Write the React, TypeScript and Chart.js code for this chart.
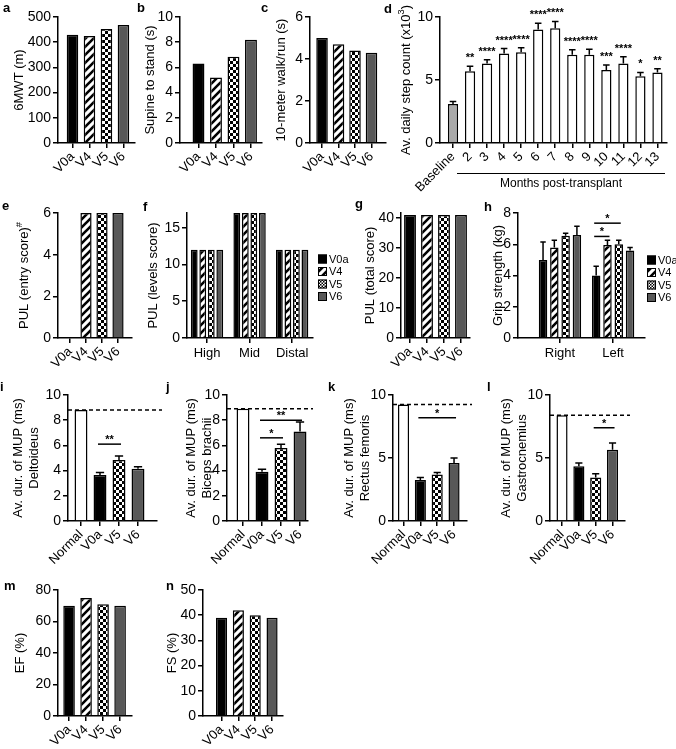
import React, { useEffect, useRef } from 'react';
import { Chart, registerables } from 'chart.js';
Chart.register(...registerables);

const FONT = "'Liberation Sans', Arial, Helvetica, sans-serif";

// ---------- DATA ----------
const visitLabels = ['V0a', 'V4', 'V5', 'V6'];
const mwt6 = [430, 425, 452, 468];
const supineToStand = [6.3, 5.2, 6.85, 8.2];
const walkRun10m = [5.0, 4.7, 4.4, 4.3];

const stepLabels = ['Baseline', '2', '3', '4', '5', '6', '7', '8', '9', '10', '11', '12', '13'];
const stepMeans = [3.1, 5.7, 6.3, 7.1, 7.2, 9.0, 9.1, 7.0, 7.0, 5.8, 6.3, 5.3, 5.6];
const stepErr = [0.2, 0.4, 0.3, 0.4, 0.35, 0.5, 0.55, 0.4, 0.45, 0.4, 0.55, 0.3, 0.3];
const stepStars = ['', '**', '****', '****', '****', '****', '****', '****', '****', '***', '****', '*', '**'];

const pulEntry = [0, 6, 6, 6];
const pulLevelCats = ['High', 'Mid', 'Distal'];
const pulLevelsV0a = [12, 17, 12];
const pulLevelsV4 = [12, 17, 12];
const pulLevelsV5 = [12, 17, 12];
const pulLevelsV6 = [12, 17, 12];
const pulTotal = [41, 41, 41, 41];

const gripCats = ['Right', 'Left'];
const gripV0a = [5.0, 4.0];
const gripV0aErr = [1.15, 0.6];
const gripV4 = [5.8, 5.95];
const gripV4Err = [0.45, 0.3];
const gripV5 = [6.55, 6.0];
const gripV5Err = [0.15, 0.25];
const gripV6 = [6.6, 5.6];
const gripV6Err = [0.55, 0.2];

const mupLabels = ['Normal', 'V0a', 'V5', 'V6'];
const mupDeltoideus = [8.8, 3.65, 4.85, 4.15];
const mupDeltoideusErr = [0, 0.2, 0.3, 0.15];
const mupBiceps = [8.9, 3.9, 5.8, 7.1];
const mupBicepsErr = [0, 0.2, 0.3, 0.75];
const mupRectus = [9.25, 3.25, 3.7, 4.6];
const mupRectusErr = [0, 0.2, 0.15, 0.4];
const mupGastro = [8.4, 4.35, 3.45, 5.65];
const mupGastroErr = [0, 0.25, 0.3, 0.55];

const efValues = [70, 75, 71, 70];
const fsValues = [39, 42, 40, 39];

// ---------- STYLE ----------
type Fill = 'black' | 'hatch' | 'check' | 'checkFine' | 'gray' | 'white' | 'lgray';
const visitFills: Fill[] = ['black', 'hatch', 'check', 'gray'];
const mupFills: Fill[] = ['white', 'black', 'check', 'gray'];

function makeHatch(ctx: CanvasRenderingContext2D, hs: number, lw: number) {
  const hc = document.createElement('canvas');
  hc.width = hs; hc.height = hs;
  const h = hc.getContext('2d')!;
  h.fillStyle = '#fff'; h.fillRect(0, 0, hs, hs);
  h.strokeStyle = '#000'; h.lineWidth = lw;
  h.beginPath();
  h.moveTo(-1, hs + 1); h.lineTo(hs + 1, -1);
  h.moveTo(-hs / 2 - 1, hs / 2 + 1); h.lineTo(hs / 2 + 1, -hs / 2 - 1);
  h.moveTo(hs / 2 - 1, hs * 1.5 + 1); h.lineTo(hs * 1.5 + 1, hs / 2 - 1);
  h.stroke();
  return ctx.createPattern(hc, 'repeat');
}
function makeCheck(ctx: CanvasRenderingContext2D, cs: number) {
  const cc = document.createElement('canvas');
  cc.width = cs * 2; cc.height = cs * 2;
  const c = cc.getContext('2d')!;
  c.fillStyle = '#fff'; c.fillRect(0, 0, cs * 2, cs * 2);
  c.fillStyle = '#000'; c.fillRect(0, 0, cs, cs); c.fillRect(cs, cs, cs, cs);
  return ctx.createPattern(cc, 'repeat');
}
function makePatterns(ctx: CanvasRenderingContext2D): Record<Fill, any> {
  return {
    black: '#000000',
    hatch: makeHatch(ctx, 8, 2.6),
    check: makeCheck(ctx, 3),
    checkFine: makeCheck(ctx, 1.5),
    gray: '#585858',
    white: '#ffffff',
    lgray: '#a9a9a9',
  };
}

interface Series { name: string; values: number[]; errors?: number[]; fills: Fill[]; }
interface Sig { a: [number, number]; b: [number, number]; y: number; text: string; }
interface Spec {
  key: string;
  plot: [number, number, number, number];
  yMax: number; yTicks: number[];
  xRange: [number, number];
  labels: string[];
  rotate: boolean;
  title: string[];
  titleX: number; titleSize: number;
  series: Series[];
  catPct: number; barPct: number;
  stars?: string[];
  sig?: Sig[];
  dashed?: number;
  legend?: [number, number];
}

const range = (a: number, b: number, s: number) => { const r: number[] = []; for (let v = a; v <= b + 1e-9; v += s) r.push(v); return r; };

const specs: Spec[] = [
  { key: 'a', plot: [58, 17, 135, 143], yMax: 500, yTicks: range(0, 500, 100), xRange: [0.147, 4.68], labels: visitLabels, rotate: true,
    title: ['6MWT (m)'], titleX: 19, titleSize: 13, series: [{ name: '', values: mwt6, fills: visitFills }], catPct: 0.68, barPct: 1 },
  { key: 'b', plot: [180, 17, 262, 143], yMax: 10, yTicks: range(0, 10, 2), xRange: [-0.057, 4.63], labels: visitLabels, rotate: true,
    title: ['Supine to stand (s)'], titleX: 150, titleSize: 13, series: [{ name: '', values: supineToStand, fills: visitFills }], catPct: 0.68, barPct: 1 },
  { key: 'c', plot: [310, 17, 386, 143], yMax: 6, yTicks: range(0, 6, 2), xRange: [0.27, 4.88], labels: visitLabels, rotate: true,
    title: ['10-meter walk/run (s)'], titleX: 281, titleSize: 13, series: [{ name: '', values: walkRun10m, fills: visitFills }], catPct: 0.7, barPct: 1 },
  { key: 'd', plot: [440, 17, 667, 143], yMax: 10, yTicks: [0, 5, 10], xRange: [0.237, 13.56], labels: stepLabels, rotate: true,
    title: ['Av. daily step count (x10^{3})'], titleX: 406, titleSize: 13,
    series: [{ name: '', values: stepMeans, errors: stepErr, fills: stepLabels.map((_, i) => (i === 0 ? 'lgray' : 'white') as Fill) }],
    catPct: 0.6, barPct: 1, stars: stepStars },
  { key: 'e', plot: [58, 213, 132, 338], yMax: 6, yTicks: range(0, 6, 2), xRange: [0.25, 4.875], labels: visitLabels, rotate: true,
    title: ['PUL (entry score)^{#}'], titleX: 24, titleSize: 13, series: [{ name: '', values: pulEntry, fills: visitFills }], catPct: 0.7, barPct: 1 },
  { key: 'f', plot: [187, 213, 313, 338], yMax: 17, yTicks: [0, 5, 10, 15], xRange: [0.53, 3.49], labels: pulLevelCats, rotate: false,
    title: ['PUL (levels score)'], titleX: 153, titleSize: 13,
    series: [
      { name: 'V0a', values: pulLevelsV0a, fills: ['black', 'black', 'black'] },
      { name: 'V4', values: pulLevelsV4, fills: ['hatch', 'hatch', 'hatch'] },
      { name: 'V5', values: pulLevelsV5, fills: ['check', 'check', 'check'] },
      { name: 'V6', values: pulLevelsV6, fills: ['gray', 'gray', 'gray'] },
    ], catPct: 0.8, barPct: 0.8, legend: [318, 259] },
  { key: 'g', plot: [401, 213, 470, 338], yMax: 41.7, yTicks: range(0, 40, 10), xRange: [0.47, 4.53], labels: visitLabels, rotate: true,
    title: ['PUL (total score)'], titleX: 370, titleSize: 13, series: [{ name: '', values: pulTotal, fills: visitFills }], catPct: 0.7, barPct: 1 },
  { key: 'h', plot: [518, 213, 645, 338], yMax: 8, yTicks: range(0, 8, 2), xRange: [0.21, 2.6], labels: gripCats, rotate: false,
    title: ['Grip strength (kg)'], titleX: 498, titleSize: 13,
    series: [
      { name: 'V0a', values: gripV0a, errors: gripV0aErr, fills: ['black', 'black'] },
      { name: 'V4', values: gripV4, errors: gripV4Err, fills: ['hatch', 'hatch'] },
      { name: 'V5', values: gripV5, errors: gripV5Err, fills: ['check', 'check'] },
      { name: 'V6', values: gripV6, errors: gripV6Err, fills: ['gray', 'gray'] },
    ], catPct: 0.85, barPct: 0.75, legend: [647, 260],
    sig: [{ a: [0, 1], b: [1, 1], y: 6.5, text: '*' }, { a: [0, 1], b: [2, 1], y: 7.35, text: '*' }] },
  { key: 'i', plot: [68, 395, 157, 521], yMax: 10, yTicks: range(0, 10, 2), xRange: [0.316, 5.0], labels: mupLabels, rotate: true,
    title: ['Av. dur. of MUP (ms)', 'Deltoideus'], titleX: 18, titleSize: 13,
    series: [{ name: '', values: mupDeltoideus, errors: mupDeltoideusErr, fills: mupFills }], catPct: 0.68, barPct: 1,
    dashed: mupDeltoideus[0], sig: [{ a: [0, 1], b: [0, 2], y: 6.1, text: '**' }] },
  { key: 'j', plot: [227, 395, 308, 521], yMax: 10, yTicks: range(0, 10, 2), xRange: [0.158, 4.42], labels: mupLabels, rotate: true,
    title: ['Av. dur. of MUP (ms)', 'Biceps brachii'], titleX: 191, titleSize: 13,
    series: [{ name: '', values: mupBiceps, errors: mupBicepsErr, fills: mupFills }], catPct: 0.68, barPct: 1,
    dashed: mupBiceps[0], sig: [{ a: [0, 1], b: [0, 2], y: 6.6, text: '*' }, { a: [0, 1], b: [0, 3], y: 8.0, text: '**' }] },
  { key: 'k', plot: [393, 395, 467, 521], yMax: 10, yTicks: [0, 5, 10], xRange: [0.375, 4.77], labels: mupLabels, rotate: true,
    title: ['Av. dur. of MUP (ms)', 'Rectus femoris'], titleX: 349, titleSize: 13,
    series: [{ name: '', values: mupRectus, errors: mupRectusErr, fills: mupFills }], catPct: 0.66, barPct: 1,
    dashed: mupRectus[0], sig: [{ a: [0, 1], b: [0, 3], y: 8.2, text: '*' }] },
  { key: 'l', plot: [550, 395, 625, 521], yMax: 10, yTicks: [0, 5, 10], xRange: [0.286, 4.74], labels: mupLabels, rotate: true,
    title: ['Av. dur. of MUP (ms)', 'Gastrocnemius'], titleX: 506, titleSize: 13,
    series: [{ name: '', values: mupGastro, errors: mupGastroErr, fills: mupFills }], catPct: 0.66, barPct: 1,
    dashed: mupGastro[0], sig: [{ a: [0, 2], b: [0, 3], y: 7.4, text: '*' }] },
  { key: 'm', plot: [58, 590, 132, 716], yMax: 80, yTicks: range(0, 80, 20), xRange: [0.35, 4.7], labels: visitLabels, rotate: true,
    title: ['EF (%)'], titleX: 20, titleSize: 13, series: [{ name: '', values: efValues, fills: visitFills }], catPct: 0.68, barPct: 1 },
  { key: 'n', plot: [203, 590, 283, 716], yMax: 50, yTicks: range(0, 50, 10), xRange: [-0.1, 4.65], labels: visitLabels, rotate: true,
    title: ['FS (%)'], titleX: 172, titleSize: 13, series: [{ name: '', values: fsValues, fills: visitFills }], catPct: 0.66, barPct: 1 },
];

const letters: [string, number, number][] = [
  ['a', 3, 12], ['b', 137, 12], ['c', 261, 12], ['d', 384, 13],
  ['e', 2, 210], ['f', 143, 211], ['g', 355, 208], ['h', 484, 211],
  ['i', 0, 391], ['j', 166, 391], ['k', 328, 391], ['l', 487, 391],
  ['m', 4, 590], ['n', 166, 590],
];

// parse "text^{sup}text" into segments
function segments(line: string) {
  const out: { t: string; sup: boolean }[] = [];
  const re = /\^\{([^}]*)\}/g;
  let last = 0; let m: RegExpExecArray | null;
  while ((m = re.exec(line))) {
    if (m.index > last) out.push({ t: line.slice(last, m.index), sup: false });
    out.push({ t: m[1], sup: true });
    last = m.index + m[0].length;
  }
  if (last < line.length) out.push({ t: line.slice(last), sup: false });
  return out;
}

function Panel({ spec }: { spec: Spec }) {
  const ref = useRef<HTMLCanvasElement>(null);
  const [pl, pt, pr, pb] = spec.plot;
  const lh = spec.titleSize * 1.3;
  const L = pl - spec.titleX + 10;
  const T = 22, R = spec.legend ? 40 : 14, B = 64;
  const W = Math.round(pr - pl + L + R);
  const H = Math.round(pb - pt + T + B);
  const cl = pl - L, ct = pt - T;

  useEffect(() => {
    const canvas = ref.current!;
    const ctx = canvas.getContext('2d')!;
    const P = makePatterns(ctx);
    const datasets = spec.series.map((s) => ({
      label: s.name,
      data: s.values.map((v, i) => ({ x: i + 1, y: v })),
      backgroundColor: s.fills.map((f) => P[f]),
      borderColor: '#000',
      borderWidth: 1.5,
      categoryPercentage: spec.catPct,
      barPercentage: spec.barPct,
    }));

    const extras = {
      id: 'extras' + spec.key,
      afterDatasetsDraw(chart: any) {
        const c = chart.ctx as CanvasRenderingContext2D;
        const ys = chart.scales.y;
        const area = chart.chartArea;
        c.save();
        c.strokeStyle = '#000';
        c.fillStyle = '#000';
        c.lineWidth = 1.5;
        // y-axis title (drawn by hand to allow superscripts)
        {
          const fs = spec.titleSize;
          c.save();
          const yc = (area.top + area.bottom) / 2;
          spec.title.forEach((line, li) => {
            const segs = segments(line);
            let total = 0;
            segs.forEach((sg) => { c.font = `${sg.sup ? fs * 0.72 : fs}px ${FONT}`; total += c.measureText(sg.t).width; });
            c.save();
            c.translate(spec.titleX - cl + li * lh, yc);
            c.rotate(-Math.PI / 2);
            c.textBaseline = 'middle';
            c.textAlign = 'left';
            let x = -total / 2;
            segs.forEach((sg) => {
              c.font = `${sg.sup ? fs * 0.72 : fs}px ${FONT}`;
              c.fillText(sg.t, x, sg.sup ? -fs * 0.38 : 0);
              x += c.measureText(sg.t).width;
            });
            c.restore();
          });
          c.restore();
        }
        // dashed reference line
        if (spec.dashed !== undefined) {
          const y = ys.getPixelForValue(spec.dashed);
          c.setLineDash([4, 3]);
          c.beginPath(); c.moveTo(area.left, y); c.lineTo(area.right + 5, y); c.stroke();
          c.setLineDash([]);
        }
        // error bars
        spec.series.forEach((s, si) => {
          if (!s.errors) return;
          const meta = chart.getDatasetMeta(si);
          s.errors.forEach((e, i) => {
            if (!e) return;
            const el = meta.data[i];
            const y0 = el.y, y1 = ys.getPixelForValue(s.values[i] + e);
            const hw = Math.min(el.width * 0.32, 4.5);
            c.beginPath();
            c.moveTo(el.x, y0); c.lineTo(el.x, y1);
            c.moveTo(el.x - hw, y1); c.lineTo(el.x + hw, y1);
            c.stroke();
          });
        });
        // stars above bars
        if (spec.stars) {
          const s = spec.series[0];
          const meta = chart.getDatasetMeta(0);
          c.font = `bold 11px ${FONT}`;
          c.textAlign = 'center'; c.textBaseline = 'alphabetic';
          spec.stars.forEach((st, i) => {
            if (!st) return;
            const el = meta.data[i];
            const y = ys.getPixelForValue(s.values[i] + (s.errors ? s.errors[i] : 0));
            c.fillText(st, el.x, y - 5);
          });
        }
        // significance bars
        if (spec.sig) {
          c.font = `bold 11px ${FONT}`;
          c.textAlign = 'center'; c.textBaseline = 'alphabetic';
          spec.sig.forEach((sg) => {
            const ea = chart.getDatasetMeta(sg.a[0]).data[sg.a[1]];
            const eb = chart.getDatasetMeta(sg.b[0]).data[sg.b[1]];
            const y = ys.getPixelForValue(sg.y);
            c.beginPath(); c.moveTo(ea.x - 2, y); c.lineTo(eb.x + 2, y); c.stroke();
            c.fillText(sg.text, (ea.x + eb.x) / 2, y - 1);
          });
        }
        // legend
        if (spec.legend) {
          const lx = spec.legend[0] - cl, ly = spec.legend[1] - ct;
          c.font = `11px ${FONT}`;
          c.textAlign = 'left'; c.textBaseline = 'middle';
          spec.series.forEach((s, si) => {
            const y = ly + si * 12.5;
            const f = s.fills[0] === 'check' ? 'checkFine' : s.fills[0];
            c.fillStyle = P[f];
            c.fillRect(lx, y - 4.5, 9, 9);
            c.lineWidth = 1;
            c.strokeStyle = '#000';
            c.strokeRect(lx + 0.5, y - 4, 8, 8);
            c.fillStyle = '#000';
            c.fillText(s.name, lx + 11, y + 0.5);
          });
        }
        c.restore();
      },
    };

    const tickVals = spec.labels.map((_, i) => i + 1);
    const chart = new Chart(ctx, {
      type: 'bar',
      data: { datasets } as any,
      options: {
        animation: false,
        responsive: false,
        maintainAspectRatio: false,
        events: [],
        layout: { padding: { left: 0, top: T, right: R, bottom: 0 } },
        plugins: { legend: { display: false }, tooltip: { enabled: false }, title: { display: false } },
        scales: {
          x: {
            type: 'linear',
            min: spec.xRange[0], max: spec.xRange[1],
            offset: false,
            grid: { offset: false, drawOnChartArea: false, drawTicks: true, tickLength: 5, color: '#000', lineWidth: 1.5 },
            border: { display: true, color: '#000', width: 1.5 },
            ticks: {
              autoSkip: false,
              minRotation: spec.rotate ? 45 : 0, maxRotation: spec.rotate ? 45 : 0,
              padding: spec.rotate ? 1 : 3,
              color: '#000',
              font: { family: FONT, size: 13 },
              callback: (v: any) => spec.labels[Math.round(Number(v)) - 1] ?? '',
            },
            afterBuildTicks: (s: any) => { s.ticks = tickVals.map((v) => ({ value: v })); },
            afterFit: (s: any) => { s.height = B; s.paddingLeft = 0; s.paddingRight = 0; },
          },
          y: {
            type: 'linear',
            min: 0, max: spec.yMax,
            grid: { drawOnChartArea: false, drawTicks: true, tickLength: 5, color: '#000', lineWidth: 1.5 },
            border: { display: true, color: '#000', width: 1.5 },
            ticks: { color: '#000', padding: 2, font: { family: FONT, size: 14 }, callback: (v: any) => String(v) },
            title: { display: false },
            afterBuildTicks: (s: any) => { s.ticks = spec.yTicks.map((v) => ({ value: v })); },
            afterFit: (s: any) => { s.width = L; s.paddingTop = 0; s.paddingBottom = 0; },
          },
        },
      } as any,
      plugins: [extras],
    });
    return () => chart.destroy();
  }, []);

  return (
    <canvas
      ref={ref}
      width={W}
      height={H}
      style={{ position: 'absolute', left: cl, top: ct, width: W, height: H }}
    />
  );
}

export default function App() {
  return (
    <div style={{ position: 'absolute', left: 0, top: 0, width: 676, height: 749, background: '#fff', overflow: 'hidden', fontFamily: FONT }}>
      {specs.map((s) => <Panel key={s.key} spec={s} />)}
      {letters.map(([t, x, y]) => (
        <div key={t} style={{ position: 'absolute', left: x, top: y - 11, fontSize: 13, lineHeight: '13px', fontWeight: 'bold', color: '#000' }}>{t}</div>
      ))}
      <div style={{ position: 'absolute', left: 457, top: 172.5, width: 208, height: 1.5, background: '#000' }} />
      <div style={{ position: 'absolute', left: 461, width: 200, top: 176, textAlign: 'center', fontSize: 12, color: '#000' }}>Months post-transplant</div>
    </div>
  );
}
